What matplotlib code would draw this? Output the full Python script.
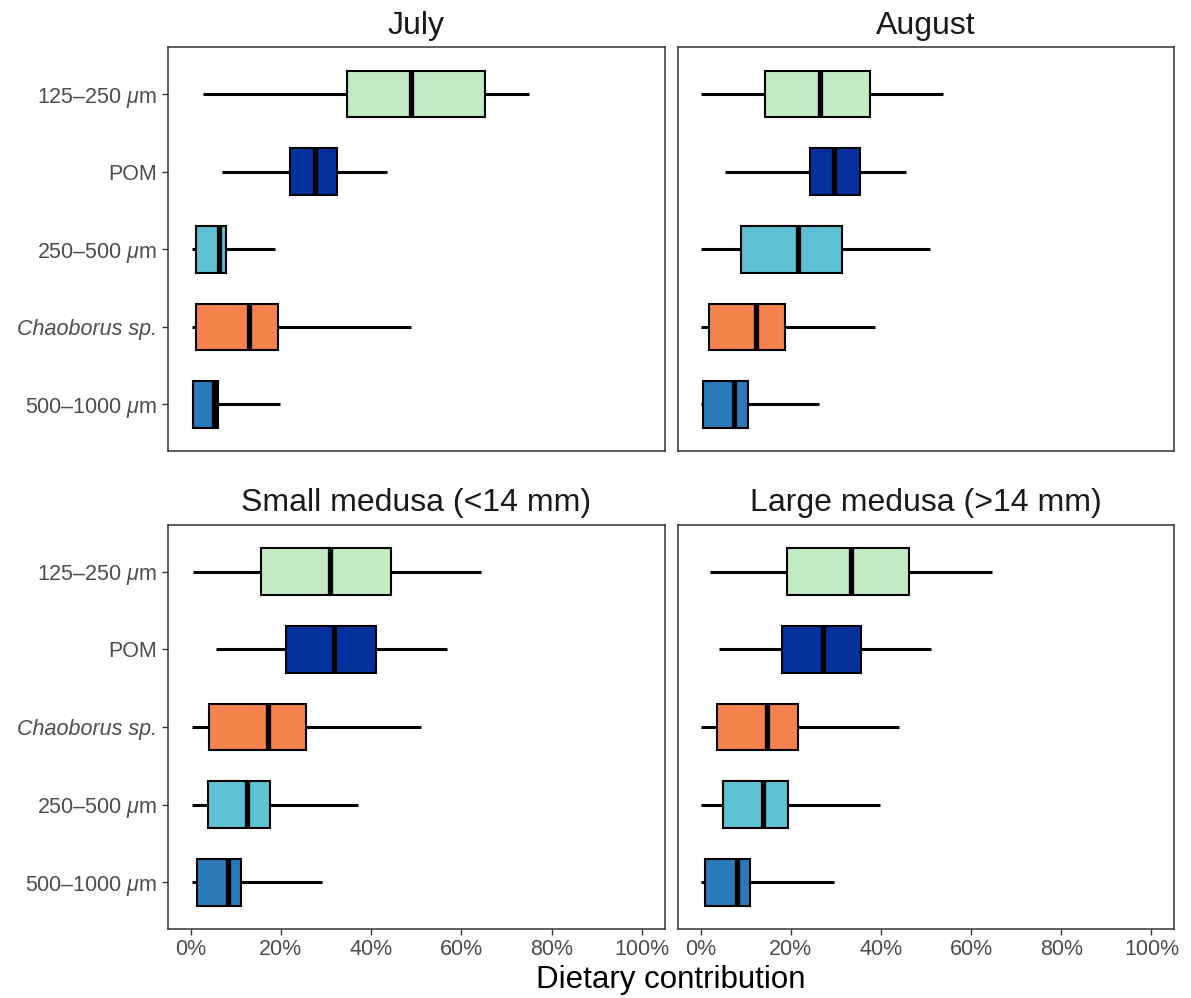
import matplotlib
matplotlib.use("Agg")
import matplotlib.pyplot as plt
from matplotlib.ticker import FixedLocator, FuncFormatter

plt.rcParams['font.family'] = ['Liberation Sans', 'DejaVu Sans']
plt.rcParams['mathtext.fontset'] = 'custom'
plt.rcParams['mathtext.rm'] = 'Liberation Sans'
plt.rcParams['mathtext.it'] = 'Liberation Sans:italic'

# ---------------- data (percent of diet) ----------------
panel_titles = ["July", "August", "Small medusa (<14 mm)", "Large medusa (>14 mm)"]

# top row category order (top to bottom)
cats_top = ["125–250 µm", "POM", "250–500 µm", "Chaoborus sp.", "500–1000 µm"]
# bottom row category order (top to bottom)
cats_bottom = ["125–250 µm", "POM", "Chaoborus sp.", "250–500 µm", "500–1000 µm"]

# each row: whisker low, Q1, median, Q3, whisker high (in %)
july = {
    "125–250 µm":    [2.7, 34.6, 48.8, 65.2, 75.0],
    "POM":           [6.9, 22.0, 27.5, 32.4, 43.6],
    "250–500 µm":    [0.3, 1.1, 6.2, 7.8, 18.8],
    "Chaoborus sp.": [0.3, 1.1, 12.9, 19.4, 48.8],
    "500–1000 µm":   [0.3, 0.6, 5.2, 6.0, 19.9],
}
august = {
    "125–250 µm":    [0.1, 14.3, 26.4, 37.5, 53.7],
    "POM":           [5.4, 24.3, 29.5, 35.4, 45.6],
    "250–500 µm":    [0.1, 9.0, 21.6, 31.4, 50.9],
    "Chaoborus sp.": [0.0, 1.9, 12.3, 18.8, 38.6],
    "500–1000 µm":   [0.0, 0.6, 7.4, 10.6, 26.2],
}
small = {
    "125–250 µm":    [0.5, 15.7, 31.0, 44.3, 64.4],
    "POM":           [5.7, 21.2, 31.8, 41.0, 56.9],
    "Chaoborus sp.": [0.3, 4.1, 17.1, 25.5, 51.1],
    "250–500 µm":    [0.3, 3.8, 12.5, 17.5, 37.0],
    "500–1000 µm":   [0.3, 1.5, 8.2, 11.1, 29.1],
}
large = {
    "125–250 µm":    [2.1, 19.1, 33.4, 46.3, 64.6],
    "POM":           [4.2, 18.0, 27.2, 35.5, 51.2],
    "Chaoborus sp.": [0.0, 3.6, 14.7, 21.6, 44.0],
    "250–500 µm":    [0.0, 4.9, 13.8, 19.4, 39.7],
    "500–1000 µm":   [0.0, 1.0, 8.1, 11.0, 29.5],
}

colors = {
    "125–250 µm": "#C2EAC3",
    "POM": "#04319B",
    "250–500 µm": "#5EC0D3",
    "Chaoborus sp.": "#F5834E",
    "500–1000 µm": "#2A7AB9",
}

tick_labels_display = {
    "125–250 µm": r"125–250 $\mu$m",
    "POM": "POM",
    "250–500 µm": r"250–500 $\mu$m",
    "Chaoborus sp.": "Chaoborus sp.",
    "500–1000 µm": r"500–1000 $\mu$m",
}

x_ticks = [0, 20, 40, 60, 80, 100]

# ---------------- figure ----------------
W, H = 1191, 998
fig = plt.figure(figsize=(W / 100, H / 100), dpi=100)

def frac_rect(x0, y0, x1, y1):
    return [x0 / W, 1 - y1 / H, (x1 - x0) / W, (y1 - y0) / H]

rects = [
    frac_rect(168, 47.5, 664.5, 451),
    frac_rect(678, 47.5, 1174, 451),
    frac_rect(168, 525, 664.5, 929),
    frac_rect(678, 525, 1174, 929),
]
datasets = [july, august, small, large]
orders = [cats_top, cats_top, cats_bottom, cats_bottom]

edge = "#333333"
label_col = "#4D4D4D"

for i, (rect, data, order, title) in enumerate(zip(rects, datasets, orders, panel_titles)):
    ax = fig.add_axes(rect)
    n = len(order)
    positions = list(range(n, 0, -1))
    stats = []
    for c in order:
        lo, q1, med, q3, hi = data[c]
        stats.append(dict(whislo=lo, q1=q1, med=med, q3=q3, whishi=hi, fliers=[], label=c))
    bp = ax.bxp(stats, positions=positions, orientation='horizontal', widths=0.6,
                patch_artist=True, showcaps=False, showfliers=False,
                boxprops=dict(edgecolor='black', linewidth=1.5),
                whiskerprops=dict(color='black', linewidth=2.2, solid_capstyle='butt'),
                medianprops=dict(color='black', linewidth=3.8, solid_capstyle='butt'),
                manage_ticks=False)
    for patch, c in zip(bp['boxes'], order):
        patch.set_facecolor(colors[c])
        patch.set_zorder(2)
    for m in bp['medians']:
        m.set_zorder(3)

    ax.set_xlim(-5, 105)
    ax.set_ylim(0.4, n + 0.6)
    for sp in ax.spines.values():
        sp.set_color(edge)
        sp.set_linewidth(1.1)

    ax.set_title(title, fontsize=23, color='#1A1A1A', pad=10)

    # y axis
    if i % 2 == 0:
        ax.yaxis.set_major_locator(FixedLocator(positions))
        ax.set_yticklabels([tick_labels_display[c] for c in order])
        ax.tick_params(axis='y', length=4.5, width=1.0, color=edge, labelsize=15.5,
                       labelcolor=label_col, pad=3.5)
        for tl, c in zip(ax.get_yticklabels(), order):
            if c.startswith("Chaoborus"):
                tl.set_fontstyle('italic')
    else:
        ax.set_yticks([])

    # x axis
    ax.xaxis.set_major_locator(FixedLocator(x_ticks))
    ax.xaxis.set_major_formatter(FuncFormatter(lambda v, p: f"{int(round(v))}%"))
    if i >= 2:
        ax.tick_params(axis='x', length=4.5, width=1.0, color=edge, labelsize=15.5,
                       labelcolor=label_col, pad=3)
    else:
        ax.tick_params(axis='x', length=0, labelbottom=False)

fig.text(671 / W, 1 - 980 / H, "Dietary contribution", ha='center', va='center',
         fontsize=22.5, color='black')

fig.savefig("out.png", dpi=100)
